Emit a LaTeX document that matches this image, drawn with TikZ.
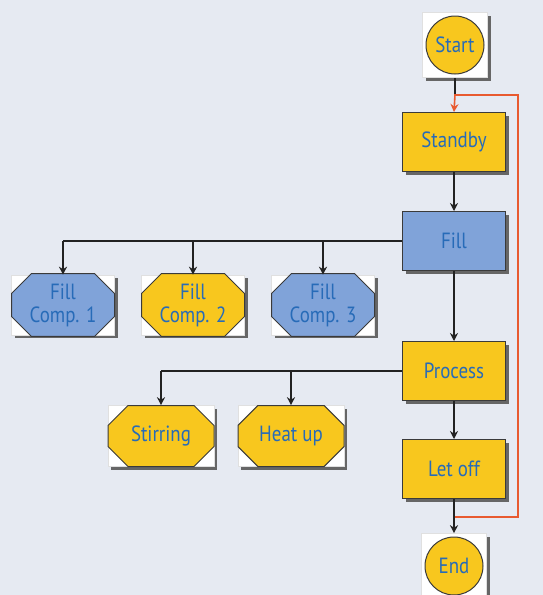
\documentclass[tikz,border=0pt]{standalone}
\usepackage{fontspec}
\newfontfamily\cond[FakeStretch=0.86]{PT Sans}
\usetikzlibrary{shapes.misc,shadows,arrows.meta}
\definecolor{bg}{HTML}{E6EAF2}
\definecolor{gold}{HTML}{F8C71E}
\definecolor{bluebox}{HTML}{80A3D9}
\definecolor{txt}{HTML}{276BB8}
\definecolor{redl}{HTML}{E85A30}
\definecolor{edge}{HTML}{3A3A3A}
\definecolor{shadc}{HTML}{666666}
\definecolor{lnk}{HTML}{222222}
\tikzset{
  lbl/.style={font=\cond\fontsize{22}{23}\selectfont, text=txt, align=center},
  shd/.style={drop shadow={shadow xshift=3pt, shadow yshift=-3pt, fill=shadc, opacity=1}},
  rbox/.style={lbl, rectangle, draw=edge, line width=1pt, minimum width=103pt, minimum height=59pt, inner sep=0pt, shd},
  framebox/.style={rectangle, fill=white, draw=black!12, line width=0.6pt, inner sep=0pt, shd},
  octbox/.style={lbl, chamfered rectangle, chamfered rectangle xsep=10pt, chamfered rectangle ysep=10pt, draw=edge, line width=1pt, minimum width=103pt, minimum height=60pt, inner sep=0pt},
  circbox/.style={lbl, circle, draw=edge, line width=1pt, fill=gold, minimum size=58pt, inner sep=0pt},
  link/.style={draw=lnk, line width=1.7pt},
  arr/.style={link, -{Stealth[length=8pt,width=8pt]}},
  redlink/.style={draw=redl, line width=1.6pt},
}
\begin{document}
\begin{tikzpicture}[x=1pt,y=-1pt]
\fill[bg] (0,0) rectangle (543,595);
\useasboundingbox (0,0) rectangle (543,595);

% start
\node[framebox, minimum width=65pt, minimum height=65pt] (startf) at (455,45) {};
\node[circbox] (start) at (455,45) {Start};

% main column
\node[rbox, fill=gold] (standby) at (454,142) {Standby};
\node[rbox, fill=bluebox] (fill) at (454,241) {Fill};
\node[rbox, fill=gold] (process) at (454,371) {Process};
\node[rbox, fill=gold] (letoff) at (454,469) {Let off};

% end
\node[framebox, minimum width=65pt, minimum height=65pt] (endf) at (454,566) {};
\node[circbox] (endn) at (454,566) {End};

% fill compartments
\node[framebox, minimum width=103pt, minimum height=60pt] (fc1f) at (63,305) {};
\node[octbox, fill=bluebox] (fc1) at (63,305) {Fill\\Comp. 1};
\node[framebox, minimum width=103pt, minimum height=60pt] (fc2f) at (193,305) {};
\node[octbox, fill=gold] (fc2) at (193,305) {Fill\\Comp. 2};
\node[framebox, minimum width=103pt, minimum height=60pt] (fc3f) at (323,305) {};
\node[octbox, fill=bluebox] (fc3) at (323,305) {Fill\\Comp. 3};

% process sub-steps
\node[framebox, minimum width=106pt, minimum height=61pt] (stirf) at (161,436) {};
\node[octbox, fill=gold, minimum width=106pt, minimum height=61pt] (stir) at (161,436) {Stirring};
\node[framebox, minimum width=106pt, minimum height=61pt] (heatf) at (291,436) {};
\node[octbox, fill=gold, minimum width=106pt, minimum height=61pt] (heat) at (291,436) {Heat up};

% junction coordinates
\coordinate (j1) at (455,95);
\coordinate (j2) at (454,517);
\coordinate (c1) at (518,517);
\coordinate (c2) at (518,95);
\coordinate (b1) at (63,241);
\coordinate (b2) at (193,241);
\coordinate (b3) at (323,241);
\coordinate (p1) at (161,371);
\coordinate (p2) at (291,371);

% connectors
\draw[link] (startf.south) -- (j1);
\draw[redlink, -{Stealth[length=8pt,width=8pt]}] (j2) -- (c1) -- (c2) -- (j1) -- (standby.north);
\draw[arr] (standby.south) -- (fill.north);
\draw[arr] (fill.south) -- (process.north);
\draw[arr] (process.south) -- (letoff.north);
\draw[arr] (letoff.south) -- (endf.north);

\draw[link] (fill.west) -- (b1);
\draw[arr] (b1) -- (fc1f.north);
\draw[arr] (b2) -- (fc2f.north);
\draw[arr] (b3) -- (fc3f.north);

\draw[link] (process.west) -- (p1);
\draw[arr] (p1) -- (stirf.north);
\draw[arr] (p2) -- (heatf.north);
\end{tikzpicture}
\end{document}
